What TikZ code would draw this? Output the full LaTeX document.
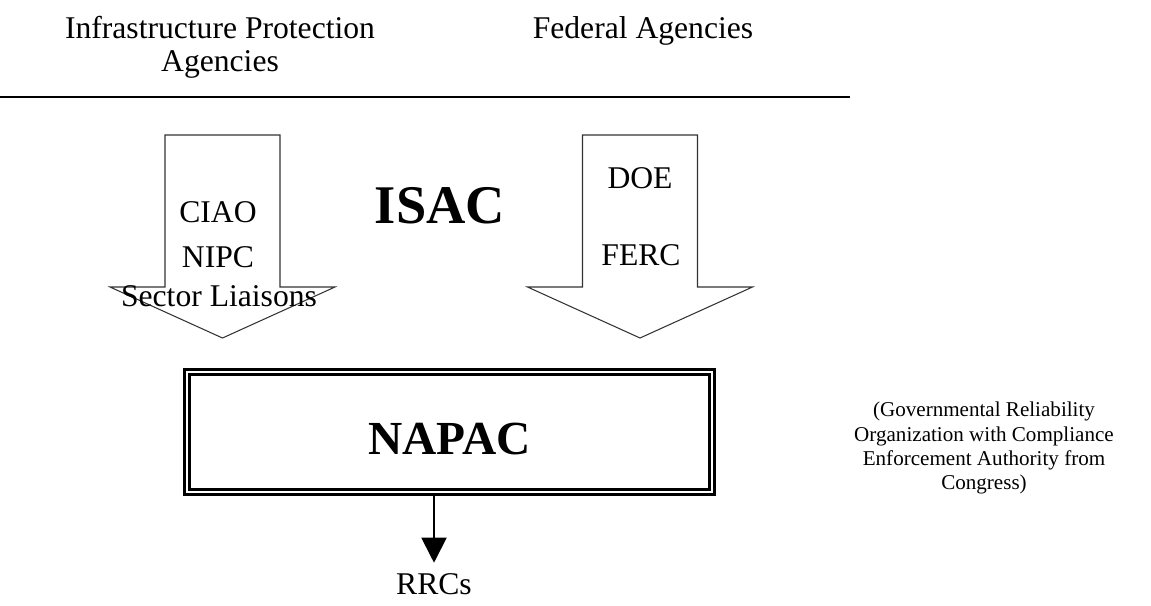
\documentclass[tikz,border=0pt]{standalone}
\usepackage{fontspec}
\setmainfont{Liberation Serif}
\usetikzlibrary{arrows.meta}

\tikzset{
    blockarrow/.style={draw=black!80, line width=0.6pt, line join=miter},
    bodytext/.style={font=\fontsize{18}{18.5}\selectfont, inner sep=0pt, anchor=base},
    titletext/.style={font=\bfseries\fontsize{31}{31}\selectfont, inner sep=0pt, anchor=base},
    napacbox/.style={draw, line width=1.6pt, double, double distance=1.2pt,
        minimum width=10.5cm, minimum height=2.4cm, inner sep=0pt,
        font=\bfseries\fontsize{27}{27}\selectfont, text height=0.9cm, text depth=0cm},
    notetext/.style={font=\fontsize{12}{13.7}\selectfont, align=center, inner sep=0pt},
    rrcarrow/.style={line width=1.1pt, -{Triangle[length=0.5cm, width=0.5cm]}}
}

\begin{document}
\begin{tikzpicture}[x=0.02cm, y=-0.02cm]
        \useasboundingbox (0,0) rectangle (1151,605);

        % heading over the rule
        \node[bodytext, align=center, anchor=north] (infra) at (220,16) {Infrastructure Protection\\Agencies};
        \node[bodytext] (federal) at (643,38) {Federal Agencies};
        \draw[line width=1.2pt] (0,97) -- (850,97);

        % the two block arrows
        \foreach \cx in {222.5, 640}{
            \draw[blockarrow] (\cx-57.5,135) -- (\cx+57.5,135) -- (\cx+57.5,287) -- (\cx+112.5,287)
                -- (\cx,338) -- (\cx-112.5,287) -- (\cx-57.5,287) -- cycle;
        }

        \node[bodytext] (ciao) at (218,222) {CIAO};
        \node[bodytext] (nipc) at (218,267) {NIPC};
        \node[bodytext] (liaisons) at (219,306) {Sector Liaisons};
        \node[bodytext] (doe) at (640,188) {DOE};
        \node[bodytext] (ferc) at (641,265) {FERC};

        \node[titletext] (isac) at (440,223) {ISAC};

        % council box and what it feeds
        \node[napacbox] (napac) at (449.5,432) {NAPAC};
        \node[notetext] (note) at (984,448) {(Governmental Reliability\\Organization with Compliance\\Enforcement Authority from\\Congress)};

        \node[bodytext, inner sep=0.2cm] (rrcs) at (434,594) {RRCs};
        \draw[rrcarrow] (napac.south -| rrcs.north) -- (rrcs.north);
    \end{tikzpicture}
\end{document}
